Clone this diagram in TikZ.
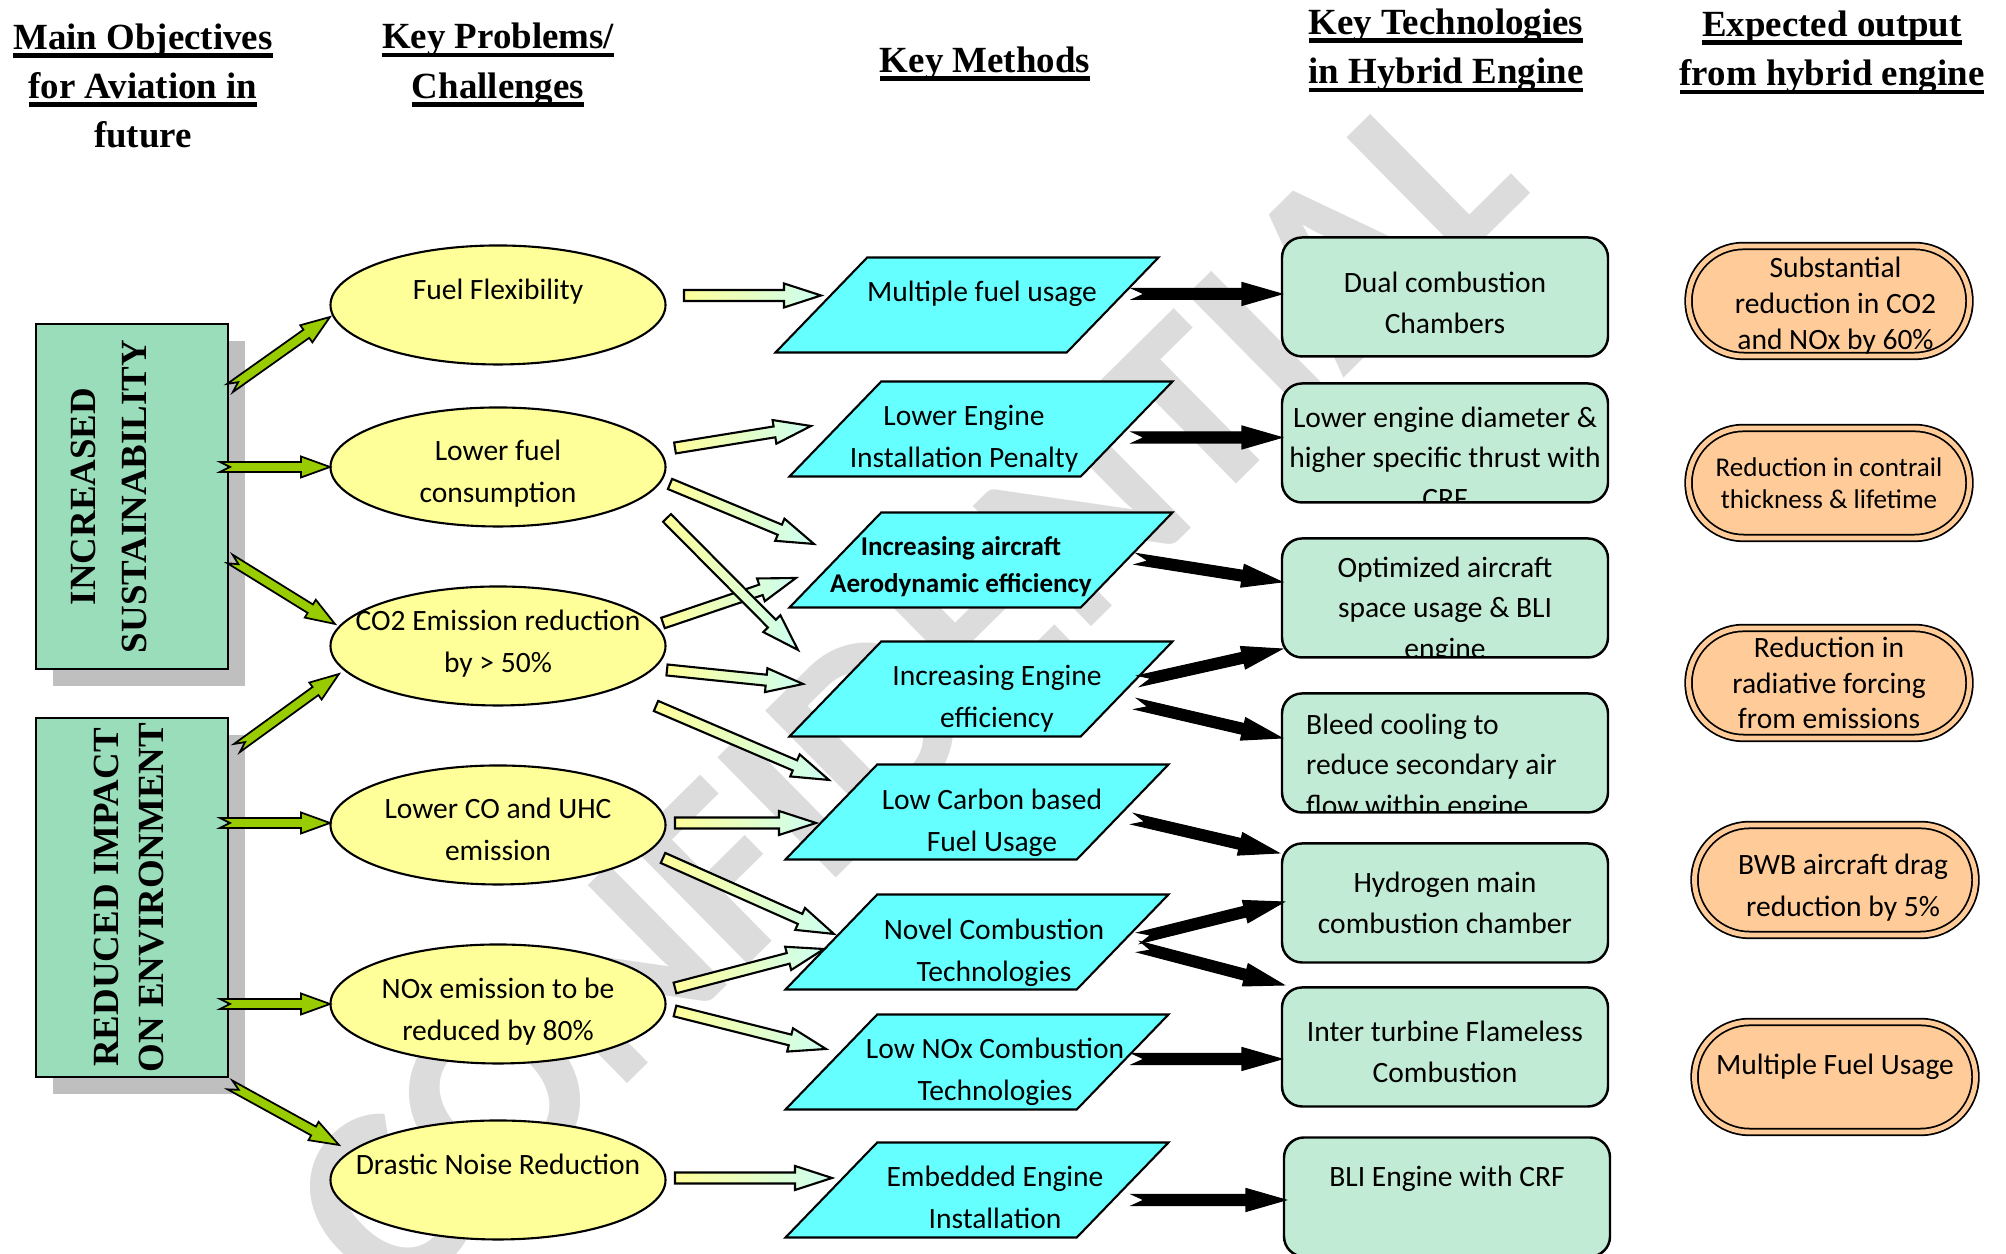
\documentclass[tikz,border=0pt]{standalone}
\usepackage{fontspec}
\setmainfont{Carlito}
\newfontfamily\hdfont{Liberation Serif}
\usepackage{tikz}
\usetikzlibrary{calc,shapes.geometric,shadows}
\definecolor{cobj}{HTML}{99DDBB}
\definecolor{cshadow}{HTML}{BFBFBF}
\definecolor{cprob}{HTML}{FFFF99}
\definecolor{cmeth}{HTML}{66FFFF}
\definecolor{ctech}{HTML}{C2EBD5}
\definecolor{cout}{HTML}{FFCC99}
\definecolor{cgreen}{HTML}{99CC00}
\definecolor{cyell}{HTML}{FFFF99}
\definecolor{cpale}{HTML}{CCFFF2}
\definecolor{cmark}{HTML}{DCDCDC}
\tikzset{
  objbox/.style={draw,line width=0.7pt,fill=cobj,minimum width=1.92cm,inner sep=0pt,
    font=\hdfont\bfseries\fontsize{10.5}{14.5}\selectfont,
    drop shadow={shadow xshift=0.17cm,shadow yshift=-0.17cm,fill=cshadow,opacity=1}},
  probell/.style={ellipse,draw,line width=0.6pt,fill=cprob,minimum width=3.35cm,minimum height=1.19cm,inner sep=0pt},
  ptxt/.style={align=center,inner sep=0pt,font=\fontsize{8.4}{12}\selectfont},
  methbox/.style={trapezium,trapezium left angle=46,trapezium right angle=134,trapezium stretches body,
    draw,line width=0.6pt,fill=cmeth,minimum width=3.83cm,minimum height=0.95cm,inner sep=0pt},
  mtxt/.style={align=center,inner sep=0pt,font=\fontsize{8.4}{12}\selectfont},
  techbox/.style={draw,line width=0.7pt,rounded corners=0.2cm,fill=ctech,minimum width=3.26cm,
    minimum height=1.19cm,align=center,font=\fontsize{8.4}{11.6}\selectfont},
  techtxt/.style={draw=none,fill=none,inner sep=0pt,minimum width=0pt,minimum height=0pt,
    align=center,font=\fontsize{8.4}{11.6}\selectfont},
  outbox/.style={draw,line width=0.5pt,double=cout,double distance=1.4pt,fill=cout,rounded corners=0.55cm,
    minimum width=2.81cm,minimum height=1.10cm,inner sep=1pt,align=center,font=\fontsize{8.4}{10.2}\selectfont},
  otxt/.style={align=center,inner sep=0pt,font=\fontsize{8.4}{10.2}\selectfont},
  hdr/.style={align=center,inner sep=0pt,font=\hdfont\bfseries\fontsize{10.5}{14}\selectfont},
  wmark/.style={rotate=44.6,text=cmark,inner sep=0pt,font=\bfseries\fontsize{74}{74}\selectfont},
  garr/.style={draw=black,line width=0.5pt,fill=cgreen},
  yarr/.style={draw=black,line width=0.6pt,left color=cyell,right color=cpale},
  karr/.style={draw=black,line width=0.3pt,fill=black},
}
% thick underline for the column titles
\newsavebox\ulbox
\newcommand\hul[1]{\sbox\ulbox{#1}\rlap{\usebox\ulbox}\rule[-2.4pt]{\wd\ulbox}{1.3pt}}
% block arrow: style, half shaft, half head, head length, notch, from, to
\newcommand{\blockarrow}[7]{%
  \path let \p1=#6, \p2=#7 in \pgfextra{%
    \pgfmathsetmacro\tmpang{atan2(\y2-\y1,\x2-\x1)}%
    \pgfmathsetmacro\tmplen{veclen(\x2-\x1,\y2-\y1)}%
    \xdef\barang{\tmpang}\xdef\barlen{\tmplen}%
    \xdef\barx{\x1}\xdef\bary{\y1}};
  \path[#1,shift={(\barx,\bary)},rotate=\barang]
    (0pt,#2) -- ({\barlen pt-#4},#2) -- ({\barlen pt-#4},#3) -- (\barlen pt,0pt)
    -- ({\barlen pt-#4},-#3) -- ({\barlen pt-#4},-#2) -- (0pt,-#2) -- (#5,0pt) -- cycle;
}
\newcommand{\garrow}[2]{\blockarrow{garr}{0.05cm}{0.105cm}{0.29cm}{0.10cm}{#1}{#2}}
\newcommand{\yarrow}[2]{\blockarrow{yarr}{0.055cm}{0.12cm}{0.37cm}{0cm}{#1}{#2}}
\newcommand{\karrow}[2]{\blockarrow{karr}{0.055cm}{0.115cm}{0.40cm}{0.12cm}{#1}{#2}}
\newcommand{\mstrut}{\rule{0pt}{0.95cm}}

\begin{document}
\begin{tikzpicture}[font=\fontsize{8.4}{12}\selectfont]
\useasboundingbox (0,0) rectangle (20.06,12.54);

% ================= watermark =================
\node[wmark] (wm) at (9.05,5.62) {CONFIDENTIAL};

% ================= column titles =================
\node[hdr] (hobj) at (1.43,11.68) {\hul{Main Objectives}\\\hul{for Aviation in}\\future};
\node[hdr] (hprob) at (4.98,11.89) {\hul{Key Problems/}\\\hul{Challenges}};
\node[hdr] (hmeth) at (9.85,11.90) {\hul{Key Methods}};
\node[hdr] (htech) at (14.46,12.035) {\hul{Key Technologies}\\\hul{in Hybrid Engine}};
\node[hdr] (hout) at (18.32,12.015) {\hul{Expected output}\\\hul{from hybrid engine}};

% ================= objectives =================
\node[objbox,minimum height=3.45cm] (inc) at (1.32,7.575)
  {\rotatebox{90}{\begin{tabular}{@{}c@{}}INCREASED\\SUSTAINABILITY\end{tabular}}\kern0.42cm};
\node[objbox,minimum height=3.59cm,font=\hdfont\bfseries\fontsize{10.5}{13}\selectfont] (red) at (1.32,3.565)
  {\rotatebox{90}{\begin{tabular}{@{}c@{}}REDUCED IMPACT\\ON ENVIRONMENT\end{tabular}}};

% ================= problems =================
\node[probell,label={[ptxt,name=fftxt,yshift=0.13cm]center:Fuel Flexibility}] (ff) at (4.98,9.49) {};
\node[probell,label={[ptxt,name=lftxt,yshift=-0.065cm]center:{Lower fuel\\consumption}}] (lf) at (4.98,7.87) {};
\node[probell,label={[ptxt,name=cotxt,yshift=0.025cm]center:{CO2 Emission reduction\\by > 50\%}}] (co) at (4.98,6.08) {};
\node[probell,label={[ptxt,name=cutxt,yshift=-0.04cm]center:{Lower CO and UHC\\emission}}] (cu) at (4.98,4.29) {};
\node[probell,label={[ptxt,name=nxtxt,yshift=-0.08cm]center:{NOx emission to be\\reduced by 80\%}}] (nx) at (4.98,2.50) {};
\node[probell,label={[ptxt,name=dntxt,yshift=0.16cm]center:Drastic Noise Reduction}] (dn) at (4.98,0.74) {};

% ================= methods =================
\node[methbox,label={[mtxt,name=mftxt,xshift=0.15cm,yshift=0.11cm]center:Multiple fuel usage}] (mf) at (9.67,9.49) {\mstrut};
\node[methbox,label={[mtxt,name=letxt,xshift=-0.17cm,yshift=-0.10cm]center:{Lower Engine\\Installation Penalty}}] (le) at (9.81,8.25) {\mstrut};
\node[methbox,label={[mtxt,name=iatxt,xshift=-0.20cm,yshift=-0.065cm,font=\bfseries\fontsize{7.7}{10.5}\selectfont]center:{Increasing aircraft\\Aerodynamic efficiency}}] (ia) at (9.81,6.94) {\mstrut};
\node[methbox,label={[mtxt,name=ietxt,xshift=0.16cm,yshift=-0.095cm]center:{Increasing Engine\\efficiency}}] (ie) at (9.81,5.65) {\mstrut};
\node[methbox,label={[mtxt,name=lctxt,xshift=0.15cm,yshift=-0.11cm]center:{Low Carbon based\\Fuel Usage}}] (lc) at (9.77,4.42) {\mstrut};
\node[methbox,label={[mtxt,name=nctxt,xshift=0.17cm,yshift=-0.105cm]center:{Novel Combustion\\Technologies}}] (nc) at (9.77,3.12) {\mstrut};
\node[methbox,label={[mtxt,name=lntxt,xshift=0.18cm,yshift=-0.095cm]center:{Low NOx Combustion\\Technologies}}] (ln) at (9.77,1.92) {\mstrut};
\node[methbox,label={[mtxt,name=eetxt,xshift=0.18cm,yshift=-0.075cm]center:{Embedded Engine\\Installation}}] (ee) at (9.77,0.64) {\mstrut};

% ================= technologies =================
\node[techbox,label={[techtxt,name=t1txt,yshift=-0.06cm]center:{Dual combustion\\Chambers}}] (t1) at (14.45,9.57) {};
\node[techbox,path picture={\node[techtxt,anchor=north] (t2txt) at ([yshift=-0.22cm]path picture bounding box.north)
  {Lower engine diameter \&\\higher specific thrust with\\CRF};}] (t2) at (14.45,8.11) {};
\node[techbox,path picture={\node[techtxt,anchor=north] (t3txt) at ([yshift=-0.17cm]path picture bounding box.north)
  {Optimized aircraft\\space usage \& BLI\\engine};}] (t3) at (14.45,6.56) {};
\node[techbox,path picture={\node[techtxt,anchor=north west,align=left] (t4txt) at ([xshift=0.23cm,yshift=-0.19cm]path picture bounding box.north west)
  {Bleed cooling to\\reduce secondary air\\flow within engine};}] (t4) at (14.45,5.01) {};
\node[techbox] (t5) at (14.45,3.51) {Hydrogen main\\combustion chamber};
\node[techbox,label={[techtxt,name=t6txt,yshift=-0.045cm]center:{Inter turbine Flameless\\Combustion}}] (t6) at (14.45,2.07) {};
\node[techbox] (t7) at (14.47,0.57) {BLI Engine with CRF\\\mbox{}};

% ================= expected output =================
\node[outbox,label={[otxt,name=o1txt,xshift=0.065cm,yshift=-0.05cm]center:{Substantial\\reduction in CO2\\and NOx by 60\%}}] (o1) at (18.29,9.53) {};
\node[outbox,font=\fontsize{7.7}{9.2}\selectfont] (o2) at (18.29,7.71) {Reduction in contrail\\thickness \& lifetime};
\node[outbox] (o3) at (18.29,5.71) {Reduction in\\radiative forcing\\from emissions};
\node[outbox,label={[otxt,name=o4txt,xshift=0.08cm,yshift=-0.08cm,font=\fontsize{8.4}{12}\selectfont]center:{BWB aircraft drag\\reduction by 5\%}}] (o4) at (18.35,3.74) {};
\node[outbox] (o5) at (18.35,1.77) {Multiple Fuel Usage\\[-3pt]\mbox{}};

% ================= objectives -> problems =================
\garrow{($(inc.center)+(0.98,1.085)$)}{($(ff.center)+(-1.68,-0.12)$)}
\garrow{($(inc.center)+(0.88,0.295)$)}{($(lf.center)+(-1.68,0)$)}
\garrow{($(inc.center)+(0.98,-0.625)$)}{($(co.center)+(-1.63,0.22)$)}
\garrow{($(red.center)+(1.05,1.495)$)}{($(co.center)+(-1.59,-0.28)$)}
\garrow{($(red.center)+(0.88,0.745)$)}{($(cu.center)+(-1.68,0.02)$)}
\garrow{($(red.center)+(0.88,-1.065)$)}{($(nx.center)+(-1.68,0)$)}
\garrow{($(red.center)+(0.98,-1.875)$)}{($(dn.center)+(-1.59,0.35)$)}

% ================= problems -> methods =================
\yarrow{($(ff.center)+(1.86,0.095)$)}{($(mf.center)+(-1.46,0.095)$)}
\yarrow{($(lf.center)+(1.77,0.19)$)}{($(le.center)+(-1.70,0.03)$)}
\yarrow{($(lf.center)+(1.72,-0.17)$)}{($(ia.center)+(-1.67,0.16)$)}
\yarrow{($(co.center)+(1.65,0.23)$)}{($(ia.center)+(-1.85,-0.18)$)}
\yarrow{($(lf.center)+(1.69,-0.51)$)}{($(ie.center)+(-1.83,0.39)$)}
\yarrow{($(co.center)+(1.69,-0.24)$)}{($(ie.center)+(-1.78,0.05)$)}
\yarrow{($(co.center)+(1.58,-0.60)$)}{($(lc.center)+(-1.48,0.32)$)}
\yarrow{($(cu.center)+(1.77,0.02)$)}{($(lc.center)+(-1.61,-0.11)$)}
\yarrow{($(cu.center)+(1.65,-0.33)$)}{($(nc.center)+(-1.43,0.08)$)}
\yarrow{($(nx.center)+(1.77,0.16)$)}{($(nc.center)+(-1.53,-0.07)$)}
\yarrow{($(nx.center)+(1.77,-0.07)$)}{($(ln.center)+(-1.51,0.13)$)}
\yarrow{($(dn.center)+(1.77,0.02)$)}{($(ee.center)+(-1.45,0.12)$)}

% ================= methods -> technologies =================
\karrow{($(mf.center)+(1.65,0.11)$)}{($(t1.center)+(-1.63,0.03)$)}
\karrow{($(le.center)+(1.51,-0.085)$)}{($(t2.center)+(-1.63,0.055)$)}
\karrow{($(ia.center)+(1.55,0.01)$)}{($(t3.center)+(-1.63,0.16)$)}
\karrow{($(ie.center)+(1.58,0.08)$)}{($(t3.center)+(-1.63,-0.51)$)}
\karrow{($(ie.center)+(1.55,-0.15)$)}{($(t4.center)+(-1.63,0.15)$)}
\karrow{($(lc.center)+(1.56,-0.07)$)}{($(t5.center)+(-1.66,0.50)$)}
\karrow{($(nc.center)+(1.62,0.04)$)}{($(t5.center)+(-1.61,0.01)$)}
\karrow{($(nc.center)+(1.62,-0.05)$)}{($(t6.center)+(-1.61,0.62)$)}
\karrow{($(ln.center)+(1.55,0.03)$)}{($(t6.center)+(-1.63,-0.12)$)}
\karrow{($(ee.center)+(1.55,-0.10)$)}{($(t7.center)+(-1.61,-0.03)$)}

\end{tikzpicture}
\end{document}
